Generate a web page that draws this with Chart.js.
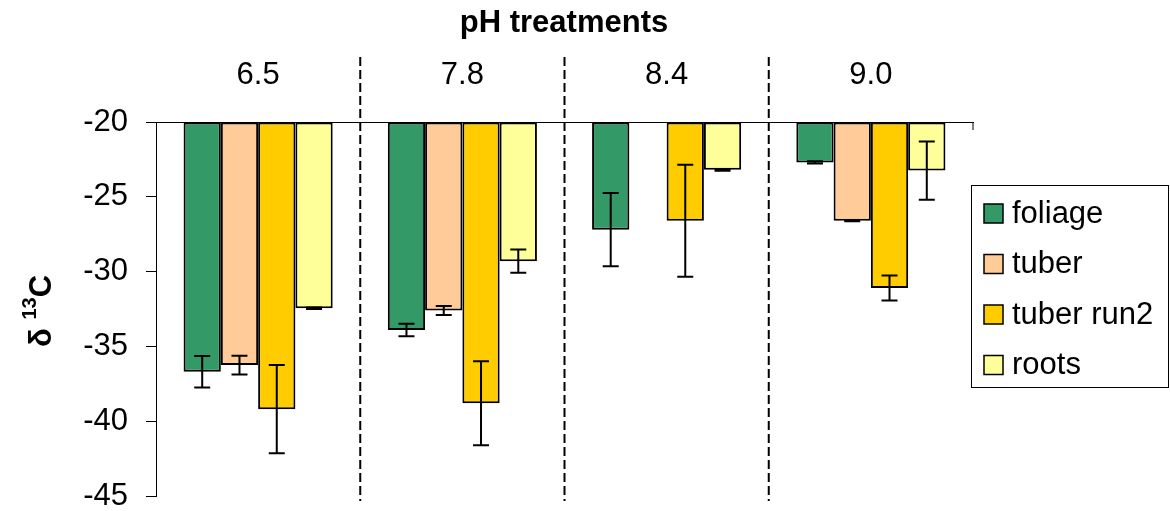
<!DOCTYPE html>
<html>
<head>
<meta charset="utf-8">
<script src="https://cdn.jsdelivr.net/npm/chart.js@4.4.1/dist/chart.umd.min.js"></script>
<style>
  html, body { margin: 0; padding: 0; background: #fff; }
  #wrap { width: 1170px; height: 511px; }
</style>
</head>
<body>
<div id="wrap"><canvas id="isoChart"></canvas></div>
<script>
const categories = ["6.5", "7.8", "8.4", "9.0"];
const seriesNames = ["foliage", "tuber", "tuber run2", "roots"];
const seriesColors = ["#339966", "#FFCC99", "#FFCC00", "#FFFF99"];

const foliage = [-36.7, -33.9, -27.2, -22.7];
const tuber = [-36.25, -32.6, null, -26.6];
const tuberRun2 = [-39.2, -38.8, -26.6, -31.1];
const roots = [-32.45, -29.3, -23.2, -23.25];

const foliageErr = [1.05, 0.42, 2.45, 0.08];
const tuberErr = [0.62, 0.3, 0, 0.03];
const tuberRun2Err = [2.95, 2.8, 3.75, 0.84];
const rootsErr = [0.05, 0.77, 0.06, 1.95];

const yTicks = [-20, -25, -30, -35, -40, -45];

const FONT = "'Liberation Sans', Arial, sans-serif";

const allValues = [foliage, tuber, tuberRun2, roots];
const allErrors = [foliageErr, tuberErr, tuberRun2Err, rootsErr];

// error bars drawn through the y scale
const errorBars = {
  id: "errorBars",
  afterDatasetsDraw(chart) {
    const c = chart.ctx;
    const y = chart.scales.y;
    c.save();
    c.strokeStyle = "#000";
    c.lineWidth = 2;
    chart.data.datasets.forEach((ds, di) => {
      const meta = chart.getDatasetMeta(di);
      meta.data.forEach((bar, i) => {
        const v = ds.data[i];
        if (v == null) return;
        const e = allErrors[di][i];
        const top = y.getPixelForValue(v + e);
        const bot = y.getPixelForValue(v - e);
        const x = bar.x;
        c.beginPath();
        c.moveTo(x, top); c.lineTo(x, bot);
        c.moveTo(x - 8, top); c.lineTo(x + 8, top);
        c.moveTo(x - 8, bot); c.lineTo(x + 8, bot);
        c.stroke();
      });
    });
    c.restore();
  }
};

// dashed separators, title, y title, legend
const decorations = {
  id: "decorations",
  afterDraw(chart) {
    const c = chart.ctx;
    const x = chart.scales.x;
    const area = chart.chartArea;
    c.save();

    // dashed lines between groups
    c.strokeStyle = "#000";
    c.lineWidth = 2;
    c.setLineDash([9, 4]);
    for (let i = 0; i < categories.length - 1; i++) {
      const px = (x.getPixelForTick(i) + x.getPixelForTick(i + 1)) / 2;
      c.beginPath();
      c.moveTo(px, 57);
      c.lineTo(px, 501);
      c.stroke();
    }
    c.setLineDash([]);

    // small tick at right end of top axis
    c.lineWidth = 1;
    c.beginPath();
    c.moveTo(area.right, area.top);
    c.lineTo(area.right, area.top + 8);
    c.stroke();

    // title
    c.fillStyle = "#000";
    c.font = "bold 31px " + FONT;
    c.textAlign = "center";
    c.textBaseline = "middle";
    c.fillText("pH treatments", 564, 23);

    // y title: δ 13C
    c.translate(40, 311);
    c.rotate(-Math.PI / 2);
    c.textBaseline = "alphabetic";
    c.textAlign = "left";
    c.font = "bold 31px " + FONT;
    const w1 = c.measureText("δ ").width;
    c.font = "bold 20px " + FONT;
    const w2 = c.measureText("13").width;
    c.font = "bold 31px " + FONT;
    const w3 = c.measureText("C").width;
    let sx = -(w1 + w2 + w3) / 2;
    c.fillText("δ ", sx, 11);
    sx += w1;
    c.font = "bold 20px " + FONT;
    c.fillText("13", sx, -4);
    sx += w2;
    c.font = "bold 31px " + FONT;
    c.fillText("C", sx, 11);
    c.setTransform(1, 0, 0, 1, 0, 0);

    // legend
    const lx = 971, ly = 185, lw = 197, lh = 202;
    c.strokeStyle = "#000";
    c.lineWidth = 1;
    c.strokeRect(lx + 0.5, ly + 0.5, lw, lh);
    c.font = "31px " + FONT;
    c.textAlign = "left";
    c.textBaseline = "middle";
    seriesNames.forEach((name, i) => {
      const cy = 213 + i * 50.5;
      c.fillStyle = seriesColors[i];
      c.fillRect(984, cy - 9, 19, 19);
      c.lineWidth = 1.5;
      c.strokeRect(984, cy - 9, 19, 19);
      c.fillStyle = "#000";
      c.fillText(name, 1012, cy + 1);
    });

    c.restore();
  }
};

const ctx = document.getElementById("isoChart").getContext("2d");

const isoChart = new Chart(ctx, {
  type: "bar",
  data: {
    labels: categories,
    datasets: seriesNames.map((name, i) => ({
      label: name,
      data: allValues[i],
      base: -20,
      backgroundColor: seriesColors[i],
      borderColor: "#000",
      borderWidth: 2,
      borderSkipped: false,
      categoryPercentage: 0.73,
      barPercentage: 1,
    })),
  },
  options: {
    responsive: true,
    maintainAspectRatio: false,
    animation: false,
    devicePixelRatio: 1,
    layout: {
      padding: { left: 0, right: 197, top: 0, bottom: 15 },
    },
    plugins: {
      legend: { display: false },
      title: { display: false },
      tooltip: { enabled: false },
    },
    scales: {
      x: {
        position: "top",
        afterFit(scale) { scale.height = 122; },
        grid: { display: false, drawTicks: false },
        border: { display: true, color: "#000", width: 1 },
        ticks: {
          color: "#000",
          font: { family: FONT, size: 31 },
          padding: 28,
        },
      },
      y: {
        min: -45,
        max: -20,
        afterFit(scale) {
          scale.width = 156;
          scale.paddingTop = 0;
          scale.paddingBottom = 0;
        },
        afterBuildTicks(scale) {
          scale.ticks = yTicks.map((v) => ({ value: v }));
        },
        grid: {
          drawOnChartArea: false,
          drawTicks: true,
          tickLength: 10,
          color: "#000",
        },
        border: { display: true, color: "#000", width: 1 },
        ticks: {
          color: "#000",
          font: { family: FONT, size: 31 },
          padding: 18,
        },
      },
    },
  },
  plugins: [errorBars, decorations],
});
</script>
</body>
</html>
